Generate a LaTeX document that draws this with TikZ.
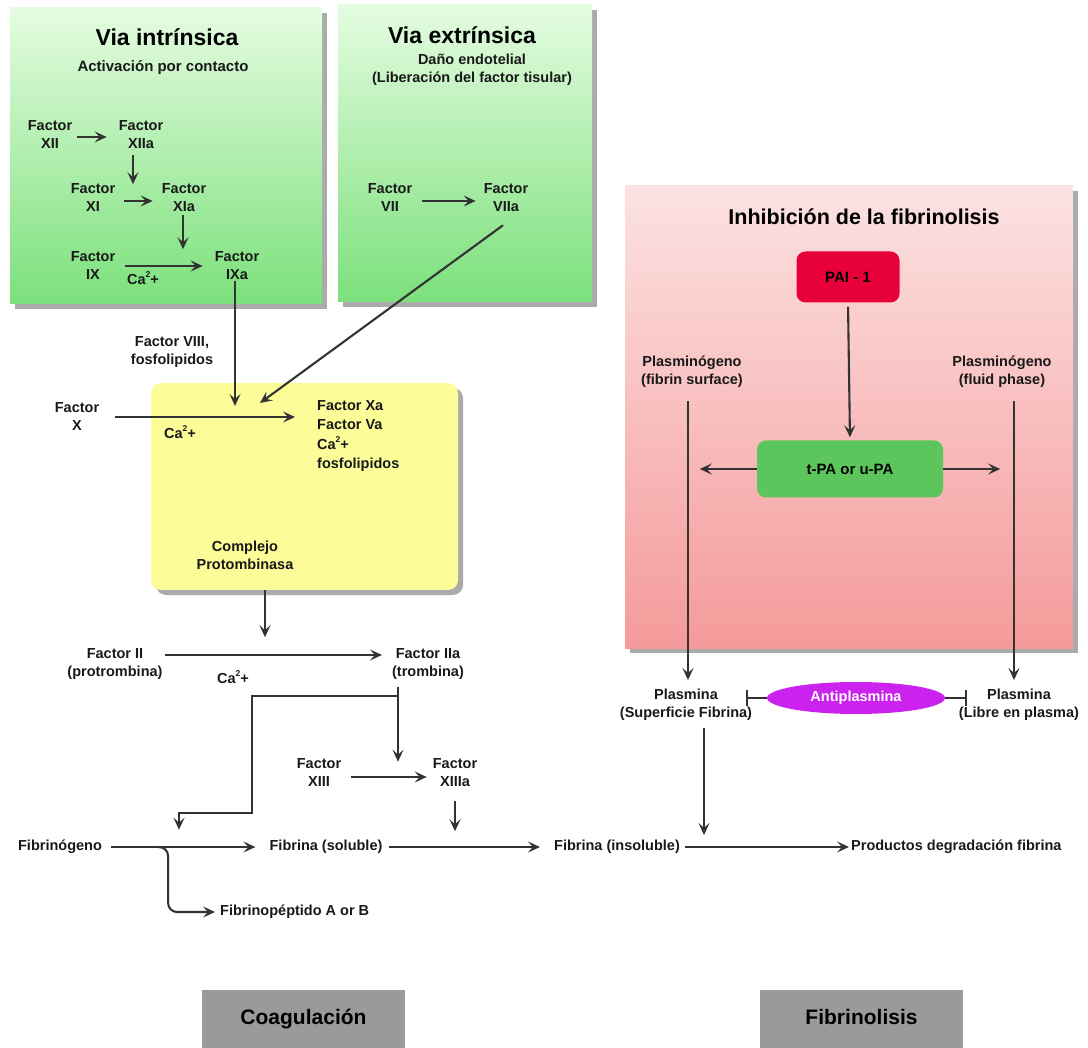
\documentclass[tikz,border=0pt]{standalone}
\usepackage{fontspec}
\setmainfont{Liberation Sans}
\usetikzlibrary{arrows.meta,shapes.geometric,shadows}

\definecolor{linea}{HTML}{333333}
\definecolor{verdetop}{HTML}{E4FCE0}
\definecolor{verdebot}{HTML}{7CE07C}
\definecolor{rosatop}{HTML}{FCE2E2}
\definecolor{rosabot}{HTML}{F59A9A}
\definecolor{amarillo}{HTML}{FCFC98}
\definecolor{rojopai}{HTML}{E8003A}
\definecolor{verdepa}{HTML}{5CC65C}
\definecolor{antiplas}{HTML}{CC22EE}
\definecolor{gris}{HTML}{9A9A9A}
\definecolor{sombra}{HTML}{ABABAB}

\newcommand{\fchico}{\bfseries\fontsize{14.5}{18}\selectfont}
\newcommand{\ftitulo}{\bfseries\fontsize{23}{26}\selectfont}
\newcommand{\calcio}{Ca\raisebox{0.45em}{\fontsize{8.5}{9}\selectfont 2}+}

\tikzset{
  txt/.style={font=\fchico, align=center, inner sep=0pt, text=black!90},
  titulo/.style={font=\ftitulo, inner sep=0pt},
  flecha/.style={draw=linea, line width=2.1pt, -{Stealth[length=12pt,width=11pt,inset=5pt]}},
  inhibe/.style={draw=linea, line width=2.1pt, -{Bar[width=16pt]}},
  caja/.style={rounded corners=9pt, inner sep=0pt, font=\bfseries\fontsize{15}{18}\selectfont},
  etiqueta/.style={fill=gris, minimum width=203pt, minimum height=58pt, inner sep=0pt,
    text height=15pt, text depth=4pt, font=\bfseries\fontsize{21}{24}\selectfont}
}

\begin{document}
\begin{tikzpicture}[x=1pt,y=-1pt]
\useasboundingbox (0,0) rectangle (1088,1048);

\fill[sombra] (15,13) rectangle (327,309);
\shade[top color=verdetop,bottom color=verdebot] (10,8) rectangle (322,304);
\fill[sombra] (343,10) rectangle (597,307);
\shade[top color=verdetop,bottom color=verdebot] (338,5) rectangle (592,302);
\fill[sombra] (630,191) rectangle (1078,653);
\shade[top color=rosatop,bottom color=rosabot] (625,186) rectangle (1073,648);
\node[fill=amarillo, rounded corners=10pt, minimum width=307pt, minimum height=207pt,
  drop shadow={shadow xshift=5pt, shadow yshift=-5pt, fill=sombra, opacity=1}] (prot) at (304.5,486.5) {};

% via intrinsica
\node[titulo] (vint) at (167,37) {Via intrínsica};
\node[txt, font=\bfseries\fontsize{15}{18}\selectfont] (act) at (163,68) {Activación por contacto};
\node[txt] (f12) at (50,135) {Factor\\XII};
\node[txt] (f12a) at (141,135) {Factor\\XIIa};
\node[txt] (f11) at (93,198) {Factor\\XI};
\node[txt] (f11a) at (184,198) {Factor\\XIa};
\node[txt] (f9) at (93,266) {Factor\\IX};
\node[txt] (f9a) at (237,266) {Factor\\IXa};
\node[txt] (ca1) at (143,278) {\calcio};

% via extrinsica
\node[titulo] (vext) at (462,35) {Via extrínsica};
\node[txt] (dano) at (472,70) {Daño endotelial\\(Liberación del factor tisular)};
\node[txt] (f7) at (390,198) {Factor\\VII};
\node[txt] (f7a) at (506,198) {Factor\\VIIa};

% protrombinasa
\node[txt] (f8) at (172,352) {Factor VIII,\\fosfolipidos};
\node[txt] (f10) at (77,417) {Factor\\X};
\node[txt] (ca2) at (180,432) {\calcio};
\node[txt, align=left, anchor=north west, font=\bfseries\fontsize{14.5}{19.5}\selectfont] (xa) at (317,400)
  {Factor Xa\\Factor Va\\\calcio\\fosfolipidos};
\node[txt] (comp) at (245,555) {Complejo\\Protombinasa};
\coordinate (e1) at (235,406);
\coordinate (e2) at (260,403);

% trombina y fibrina
\node[txt] (f2) at (115,664) {Factor II\\(protrombina)};
\node[txt] (f2a) at (428,664) {Factor IIa\\(trombina)};
\node[txt] (ca3) at (233,677) {\calcio};
\node[txt] (f13) at (319,773) {Factor\\XIII};
\node[txt] (f13a) at (455,773) {Factor\\XIIIa};
\node[txt] (fib) at (60,847) {Fibrinógeno};
\node[txt] (fibs) at (326,847) {Fibrina (soluble)};
\node[txt] (fibi) at (617,847) {Fibrina (insoluble)};
\node[txt, anchor=west] (prod) at (851,847) {Productos degradación fibrina};
\node[txt, anchor=west] (fpep) at (220,912) {Fibrinopéptido A or B};

% fibrinolisis
\node[titulo, font=\bfseries\fontsize{21.5}{24}\selectfont] (inh) at (864,217) {Inhibición de la fibrinolisis};
\node[caja, fill=rojopai, minimum width=103pt, minimum height=51pt] (pai) at (848,277) {PAI - 1};
\node[caja, fill=verdepa, minimum width=186pt, minimum height=57pt] (tpa) at (850,469) {t-PA or u-PA};
\node[txt] (pg1) at (692,372) {Plasminógeno\\(fibrin surface)};
\node[txt] (pg2) at (1002,372) {Plasminógeno\\(fluid phase)};
\node[txt] (psup) at (686,705) {Plasmina\\(Superficie Fibrina)};
\node[txt] (plib) at (1019,705) {Plasmina\\(Libre en plasma)};
\node[ellipse, fill=antiplas, minimum width=178pt, minimum height=32pt, inner sep=0pt,
  text=white, font=\fchico] (anti) at (856,698) {Antiplasmina};

\node[etiqueta] (coag) at (303.5,1019) {Coagulación};
\node[etiqueta] (fibl) at (861.5,1019) {Fibrinolisis};

% conexiones
\draw[flecha, shorten <=5pt, shorten >=12pt] ([yshift=-2pt]f12.east) -- ([yshift=-2pt]f12a.west);
\draw[flecha] ([xshift=-8pt,yshift=-6pt]f12a.south) -- ++(0,29);
\draw[flecha, shorten <=9pt, shorten >=9pt] ([yshift=-3pt]f11.east) -- ([yshift=-3pt]f11a.west);
\draw[flecha] ([xshift=-1pt,yshift=-3pt]f11a.south) -- ++(0,34);
\draw[flecha, shorten <=10pt, shorten >=12pt] (f9.east) -- (f9a.west);
\draw[flecha, shorten <=10pt, shorten >=8pt] ([yshift=-3pt]f7.east) -- ([yshift=-3pt]f7a.west);
\draw[flecha] ([xshift=-2pt,yshift=-1pt]f9a.south) -- (e1);
\draw[flecha] ([xshift=-3pt,yshift=-13pt]f7a.south) -- (e2);
\draw[flecha, shorten <=16pt, shorten >=22pt] (f10.east) -- (f10.east -| xa.west);
\draw[flecha] ([xshift=-39.5pt]prot.south) -- ++(0,47);
\draw[flecha, shorten <=2pt, shorten >=10pt] ([yshift=9pt]f2.east) -- ([yshift=9pt]f2a.west);
\draw[flecha] ([xshift=-30pt,yshift=-7pt]f2a.south) -- ++(0,75);
\draw[flecha] ([xshift=-30pt,yshift=-16pt]f2a.south) -- ++(-146,0) -- ++(0,117) -- ++(-73,0) -- ++(0,17);
\draw[flecha, shorten <=10pt, shorten >=6pt] ([yshift=-4pt]f13.east) -- ([yshift=-4pt]f13a.west);
\draw[flecha] ([yshift=-14pt]f13a.south) -- ++(0,30);
\draw[flecha, shorten <=9pt, shorten >=14pt] (fib.east) -- (fibs.west);
\draw[flecha, rounded corners=9pt, shorten >=5pt] ([xshift=56pt]fib.east) -- ++(10,0) |- (fpep.west);
\draw[flecha, shorten <=6pt, shorten >=14pt] (fibs.east) -- (fibi.west);
\draw[flecha, shorten <=5pt, shorten >=2pt] (fibi.east) -- (prod.west);
\draw[flecha] ([xshift=18pt,yshift=-7pt]psup.south) -- ++(0,107);

\draw[flecha, shorten <=4pt, shorten >=3pt] (pai.south) -- (tpa.north);
\draw[flecha] (tpa.west) -- ++(-57,0);
\draw[flecha] (tpa.east) -- ++(57,0);
\draw[flecha, shorten <=13pt, shorten >=9pt] ([xshift=-4pt]pg1.south) -- ([xshift=-4pt]pg1.south |- psup.north);
\draw[flecha, shorten <=13pt, shorten >=9pt] ([xshift=12pt]pg2.south) -- ([xshift=12pt]pg2.south |- plib.north);
\draw[inhibe] (anti.west) -- ++(-21,0);
\draw[inhibe] (anti.east) -- ++(22,0);
\end{tikzpicture}
\end{document}
